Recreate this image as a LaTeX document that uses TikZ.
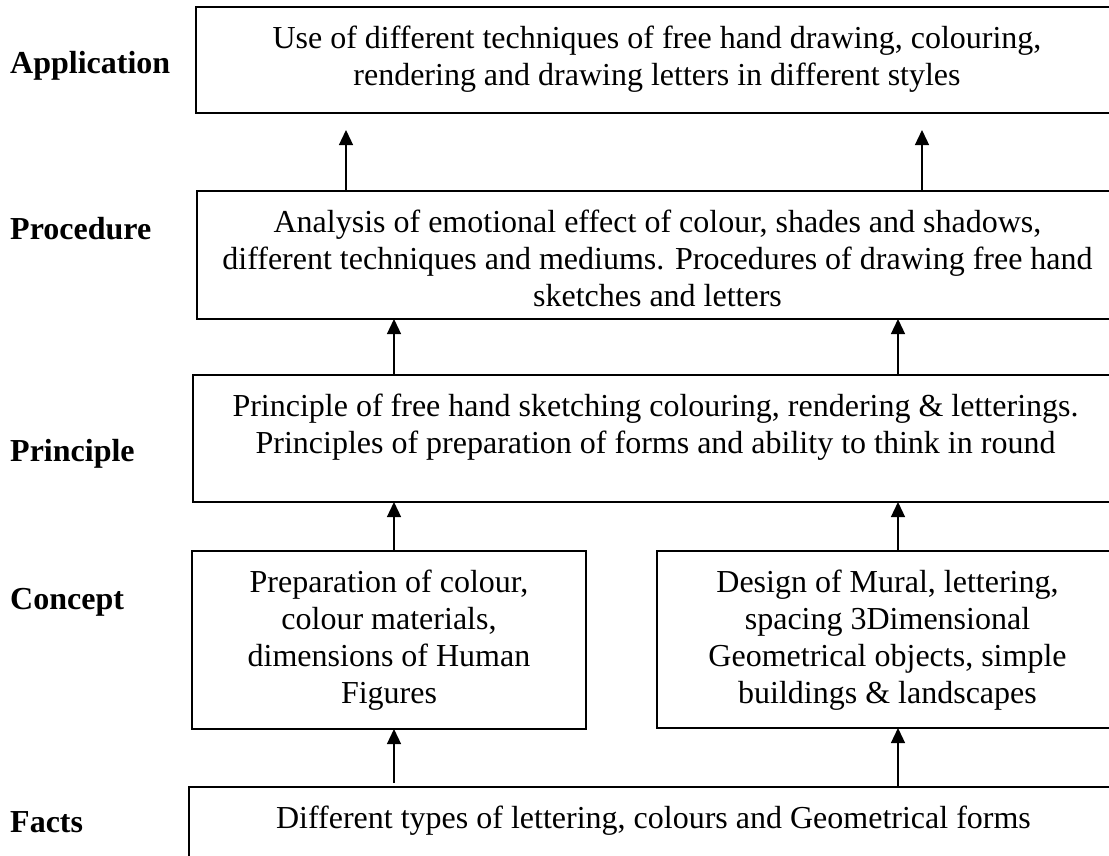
\documentclass[tikz,border=0pt]{standalone}
\usepackage{fontspec}
\setmainfont{Liberation Serif}
\usetikzlibrary{arrows.meta}
\begin{document}
\begin{tikzpicture}[x=1pt,y=-1pt,
  stagebox/.style={draw=black,line width=1.5pt,rectangle,anchor=north west,inner sep=0pt,outer sep=0pt},
  boxtext/.style={anchor=north,inner sep=0pt,align=center,yshift=-19pt,
    font=\fontsize{32}{37}\selectfont},
  levellabel/.style={anchor=base west,inner sep=0pt,font=\fontsize{32}{37}\selectfont\bfseries},
  uparrow/.style={line width=1.3pt,-{Triangle[length=15pt,width=14pt]}}]
\useasboundingbox (0,0) rectangle (1109,855);
\clip (0,0) rectangle (1109,855);

% stage boxes (the wide ones run past the right edge)
\node[stagebox,minimum width=922pt,minimum height=106pt] (app)   at (196,7) {};
\node[stagebox,minimum width=921pt,minimum height=128pt] (proc)  at (197,191) {};
\node[stagebox,minimum width=925pt,minimum height=127pt] (prin)  at (193,375) {};
\node[stagebox,minimum width=394pt,minimum height=178pt] (concL) at (192,551) {};
\node[stagebox,minimum width=461pt,minimum height=177pt] (concR) at (657,551) {};
\node[stagebox,minimum width=929pt,minimum height=100pt] (facts) at (189,787) {};

% box texts
\node[boxtext] (appT) at (app.north) {Use of different techniques of free hand drawing, colouring,\\rendering and drawing letters in different styles};
\node[boxtext] (procT) at (proc.north) {Analysis of emotional effect of colour, shades and shadows,\\different techniques and mediums. Procedures of drawing free hand\\sketches and letters};
\node[boxtext] (prinT) at (prin.north) {Principle of free hand sketching colouring, rendering \& letterings.\\Principles of preparation of forms and ability to think in round};
\node[boxtext] (concLT) at (concL.north) {Preparation of colour,\\colour materials,\\dimensions of Human\\Figures};
\node[boxtext] (concRT) at (concR.north) {Design of Mural, lettering,\\spacing 3Dimensional\\Geometrical objects, simple\\buildings \& landscapes};
\node[boxtext] (factsT) at (facts.north) {Different types of lettering, colours and Geometrical forms};

% level labels
\node[levellabel] (lApp)  at (10,73)  {Application};
\node[levellabel] (lProc) at (10,239) {Procedure};
\node[levellabel] (lPrin) at (10,461) {Principle};
\node[levellabel] (lConc) at (10,609) {Concept};
\node[levellabel] (lFact) at (10,832) {Facts};

% arrow columns
\coordinate (xa) at (346,0);
\coordinate (xb) at (922,0);
\coordinate (xc) at (394,0);
\coordinate (xd) at (898,0);

% connectors
\draw[uparrow,shorten >=17pt] (proc.north -| xa) -- (app.south -| xa);
\draw[uparrow,shorten >=17pt] (proc.north -| xb) -- (app.south -| xb);
\draw[uparrow] (prin.north -| xc) -- (proc.south -| xc);
\draw[uparrow] (prin.north -| xd) -- (proc.south -| xd);
\draw[uparrow] (concL.north -| xc) -- (prin.south -| xc);
\draw[uparrow] (concR.north -| xd) -- (prin.south -| xd);
\draw[uparrow,shorten <=4pt] (facts.north -| xc) -- (concL.south -| xc);
\draw[uparrow] (facts.north -| xd) -- (concR.south -| xd);
\end{tikzpicture}
\end{document}
